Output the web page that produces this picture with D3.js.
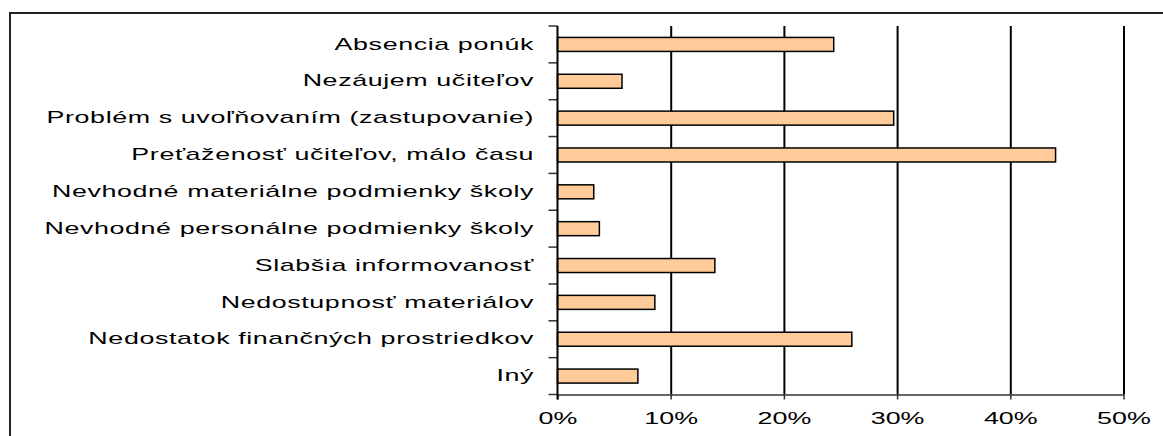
<!DOCTYPE html>
<html>
<head>
<meta charset="utf-8">
<script src="https://cdn.jsdelivr.net/npm/d3@7"></script>
<style>
  body { margin: 0; background: #fff; }
  svg { display: block; font-family: "Liberation Sans", Arial, sans-serif; }
</style>
</head>
<body>
<svg id="chart" width="1163" height="436"></svg>
<script>
const categories = [
    "Absencia ponúk",
    "Nezáujem učiteľov",
    "Problém s uvoľňovaním (zastupovanie)",
    "Preťaženosť učiteľov, málo času",
    "Nevhodné materiálne podmienky školy",
    "Nevhodné personálne podmienky školy",
    "Slabšia informovanosť",
    "Nedostupnosť materiálov",
    "Nedostatok finančných prostriedkov",
    "Iný"
];
const values = [0.244, 0.057, 0.297, 0.440, 0.032, 0.037, 0.139, 0.086, 0.260, 0.071];
const xTicks = [0, 0.1, 0.2, 0.3, 0.4, 0.5];

const stretch = 1.68; // text in the picture is stretched horizontally
const svg = d3.select("#chart");

// frame (only top and left edges visible)
svg.append("path")
    .attr("d", "M10,436 V13 H1163")
    .attr("fill", "none")
    .attr("stroke", "#222")
    .attr("stroke-width", 2);

const plotL = 557.5, plotR = 1123.5, plotT = 26, plotB = 394.5;

const x = d3.scaleLinear().domain([0, 0.5]).range([plotL, plotR]);
const y = d3.scaleBand().domain(categories).range([plotT, plotB])
    .paddingInner(0.62).paddingOuter(0.31);

// gridlines
svg.append("g")
    .attr("transform", `translate(0,${plotB})`)
    .call(d3.axisBottom(x).tickValues(xTicks.slice(1)).tickSize(-(plotB - plotT)).tickFormat(""))
    .call(g => g.select(".domain").remove())
    .call(g => g.selectAll("line").attr("stroke", "#000").attr("stroke-width", 2));

// bars
svg.append("g")
    .selectAll("rect")
    .data(values)
    .join("rect")
    .attr("x", x(0))
    .attr("y", (d, i) => y(categories[i]))
    .attr("width", d => x(d) - x(0))
    .attr("height", y.bandwidth())
    .attr("fill", "#ffcc99")
    .attr("stroke", "#000")
    .attr("stroke-width", 1.5);

// x axis
svg.append("g")
    .attr("transform", `translate(0,${plotB})`)
    .call(d3.axisBottom(x).tickValues(xTicks).tickFormat(d3.format(".0%")).tickSize(5).tickSizeOuter(0))
    .call(g => g.select(".domain").attr("stroke", "#333").attr("stroke-width", 1.5))
    .call(g => g.selectAll("line").attr("stroke", "#333").attr("stroke-width", 1.5))
    .call(g => g.selectAll("text")
        .attr("y", 18.5)
        .attr("fill", "#000")
        .attr("font-size", 16)
        .attr("font-family", "Liberation Sans, Arial, sans-serif")
        .attr("transform", `scale(${stretch},1)`));

// y axis labels
svg.append("g")
    .attr("transform", `translate(${plotL},0)`)
    .call(d3.axisLeft(y).tickSize(0).tickPadding(0))
    .call(g => g.select(".domain").remove())
    .call(g => g.selectAll("text")
        .attr("x", -23.5 / stretch)
        .attr("fill", "#000")
        .attr("font-size", 16)
        .attr("letter-spacing", 0.35)
        .attr("font-family", "Liberation Sans, Arial, sans-serif")
        .attr("transform", `scale(${stretch},1)`));

// y axis line and boundary ticks
const bounds = d3.range(categories.length + 1).map(i => plotT + i * y.step());
svg.append("g")
    .selectAll("line")
    .data(bounds)
    .join("line")
    .attr("x1", plotL - 9)
    .attr("x2", plotL)
    .attr("y1", d => d)
    .attr("y2", d => d)
    .attr("stroke", "#333")
    .attr("stroke-width", 1.5);
svg.append("line")
    .attr("x1", plotL).attr("x2", plotL)
    .attr("y1", plotT).attr("y2", plotB + 5)
    .attr("stroke", "#000")
    .attr("stroke-width", 2);
</script>
</body>
</html>
